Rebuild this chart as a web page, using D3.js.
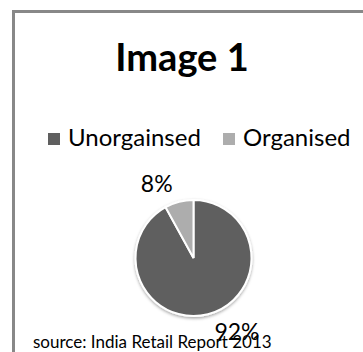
<!DOCTYPE html>
<html>
<head>
<meta charset="utf-8">
<script src="https://cdn.jsdelivr.net/npm/d3@7"></script>
<style>
  body { margin: 0; background: #fff; }
  text { font-family: Lato, "Open Sans", sans-serif; fill: #000; }
</style>
</head>
<body>
<div class="canvas"></div>
<script>
// chart data
const categories = ['Unorgainsed', 'Organised'];
const shares = [92, 8];
const colors = ['#5f5f5f', '#adadad'];
const title = 'Image 1';
const source = 'source: India Retail Report 2013';

const width = 363;
const height = 352;

const svg = d3.select('.canvas')
  .append('svg')
  .attr('width', width)
  .attr('height', height);

// outer frame (runs off the right and bottom edge)
svg.append('rect')
  .attr('x', 13.5)
  .attr('y', 11.5)
  .attr('width', 400)
  .attr('height', 400)
  .attr('fill', '#fff')
  .attr('stroke', '#888')
  .attr('stroke-width', 3);

// title
svg.append('text')
  .attr('x', 182)
  .attr('y', 71)
  .attr('text-anchor', 'middle')
  .attr('font-size', 38)
  .attr('font-weight', 'bold')
  .text(title);

// legend
const legend = svg.append('g').attr('transform', 'translate(48, 146)');
const legendX = d3.scaleOrdinal().domain(categories).range([0, 175]);
const items = legend.selectAll('g')
  .data(categories)
  .enter()
  .append('g')
  .attr('transform', d => `translate(${legendX(d)}, 0)`);

items.append('rect')
  .attr('y', -13)
  .attr('width', 12)
  .attr('height', 12)
  .attr('fill', (d, i) => colors[i]);

items.append('text')
  .attr('x', 20)
  .attr('font-size', 24)
  .text(d => d);

// pie
const cx = 193.5, cy = 258, r = 58;
const pie = d3.pie().sort(null);
const arc = d3.arc().innerRadius(0).outerRadius(r);
const labelArc = d3.arc().innerRadius(r + 18).outerRadius(r + 18);

const defs = svg.append('defs');
const shadow = defs.append('filter').attr('id', 'shadow')
  .attr('x', '-20%').attr('y', '-20%').attr('width', '140%').attr('height', '140%');
shadow.append('feDropShadow')
  .attr('dx', 0).attr('dy', 1.5).attr('stdDeviation', 1.5)
  .attr('flood-color', '#000').attr('flood-opacity', 0.35);

const graph = svg.append('g')
  .attr('transform', `translate(${cx}, ${cy})`);

graph.append('g')
  .attr('filter', 'url(#shadow)')
  .selectAll('path')
  .data(pie(shares))
  .enter()
  .append('path')
  .attr('d', arc)
  .attr('fill', (d, i) => colors[i])
  .attr('stroke', '#fff')
  .attr('stroke-width', 2);

graph.selectAll('.label')
  .data(pie(shares))
  .enter()
  .append('text')
  .attr('class', 'label')
  .attr('x', d => labelArc.centroid(d)[0] + (labelArc.centroid(d)[0] < 0 ? -2 : 2))
  .attr('y', d => labelArc.centroid(d)[1])
  .attr('dy', '0.35em')
  .attr('text-anchor', d => labelArc.centroid(d)[0] < 0 ? 'end' : 'start')
  .attr('font-size', 23)
  .text(d => d.data + '%');

// source note
svg.append('text')
  .attr('x', 33)
  .attr('y', 348)
  .attr('font-size', 17)
  .text(source);
</script>
</body>
</html>
